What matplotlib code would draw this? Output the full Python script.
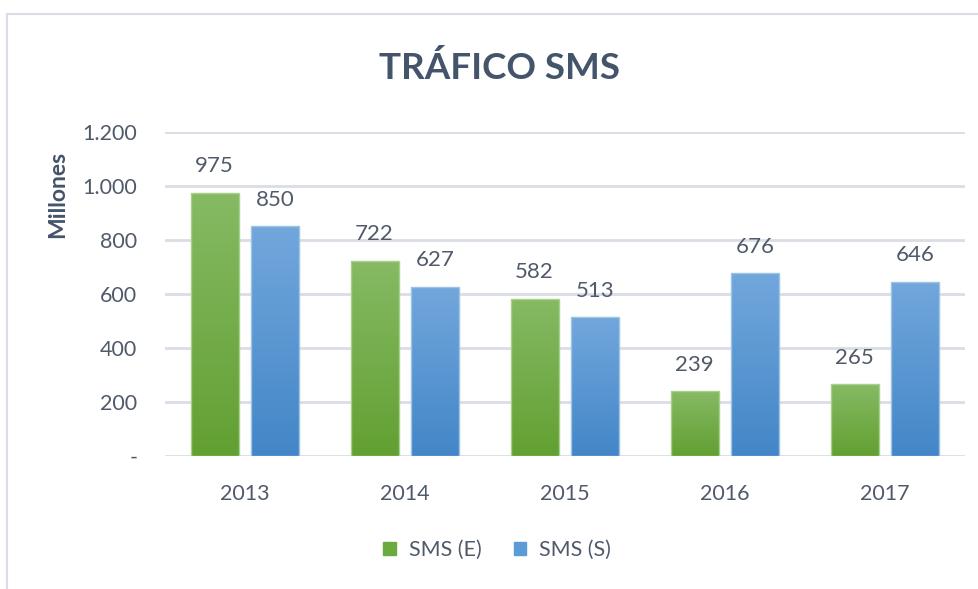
import numpy as np
import matplotlib.pyplot as plt
from matplotlib.patches import Patch, Rectangle
from matplotlib.colors import LinearSegmentedColormap

# data
years = ['2013', '2014', '2015', '2016', '2017']
sms_e = [975, 722, 582, 239, 265]
sms_s = [850, 627, 513, 676, 646]
yticks = [0, 200, 400, 600, 800, 1000, 1200]
ytick_labels = ['-', '200', '400', '600', '800', '1.000', '1.200']

plt.rcParams['font.family'] = ['Lato', 'DejaVu Sans']
txt_col = '#505a6a'
title_col = '#44546a'

fig = plt.figure(figsize=(9.79, 5.89), dpi=100)
ax = fig.add_axes([165/979, 1-456/589, 800/979, 324/589])

# outer frame (light grey)
fig.patches.append(Rectangle((7/979, -0.1), 1.2, 1-14/589+0.1, transform=fig.transFigure,
                             fill=False, edgecolor='#d9dde5', linewidth=1.5))

x = np.arange(len(years))
w = 0.30
off = 0.19

green_cm = LinearSegmentedColormap.from_list('g', ['#62a032', '#86ba64'])
blue_cm = LinearSegmentedColormap.from_list('b', ['#4386c7', '#72a7dc'])
grad = np.linspace(0, 1, 256).reshape(-1, 1)

def grad_bars(xs, vals, cmap, edge):
    bars = ax.bar(xs, vals, w, facecolor='none', edgecolor=edge, linewidth=1, zorder=3)
    for b in bars:
        x0, y0 = b.get_x(), b.get_y()
        im = ax.imshow(grad, extent=[x0, x0 + b.get_width(), y0, y0 + b.get_height()],
                       origin='lower', cmap=cmap, aspect='auto', zorder=2)
        im.set_clip_path(b)
    return bars

b1 = grad_bars(x - off, sms_e, green_cm, '#a9d18e')
b2 = grad_bars(x + off, sms_s, blue_cm, '#9dc3e6')

for xs, vals in [(x - off, sms_e), (x + off, sms_s)]:
    for xi, v in zip(xs, vals):
        ax.annotate(str(v), (xi, v), xytext=(0, 12), textcoords='offset points',
                    ha='center', va='bottom', fontsize=16, color=txt_col)

ax.set_xlim(-0.5, 4.5)
ax.set_ylim(0, 1200)
ax.set_xticks(x)
ax.set_xticklabels(years, fontsize=15.5, color=txt_col)
ax.set_yticks(yticks)
ax.set_yticklabels(ytick_labels, fontsize=15.5, color=txt_col)
ax.tick_params(length=0)
ax.tick_params(axis='y', pad=20)
ax.tick_params(axis='x', pad=20)
ax.grid(axis='y', color='#d9dde5', linewidth=2)
ax.set_axisbelow(True)
for s in ax.spines.values():
    s.set_visible(False)

fig.text(58/979, 1-194/589, 'Millones', rotation=90, ha='center', va='center',
         fontsize=16.5, fontweight='bold', color=title_col)
fig.text(500/979, 1-68/589, 'TRÁFICO SMS', ha='center', va='center',
         fontsize=26.5, fontweight='bold', color=title_col)

handles = [Patch(facecolor='#6aab40', edgecolor='#6aab40'),
           Patch(facecolor='#5a9bd8', edgecolor='#5a9bd8')]
fig.legend(handles, ['SMS (E)', 'SMS (S)'], loc='center', bbox_to_anchor=(497/979, 1-550/589),
           ncol=2, frameon=False, fontsize=15.5, labelcolor=txt_col,
           handlelength=0.6, handleheight=0.6, columnspacing=1.5, handletextpad=0.6)

fig.savefig('out.png', dpi=100)
